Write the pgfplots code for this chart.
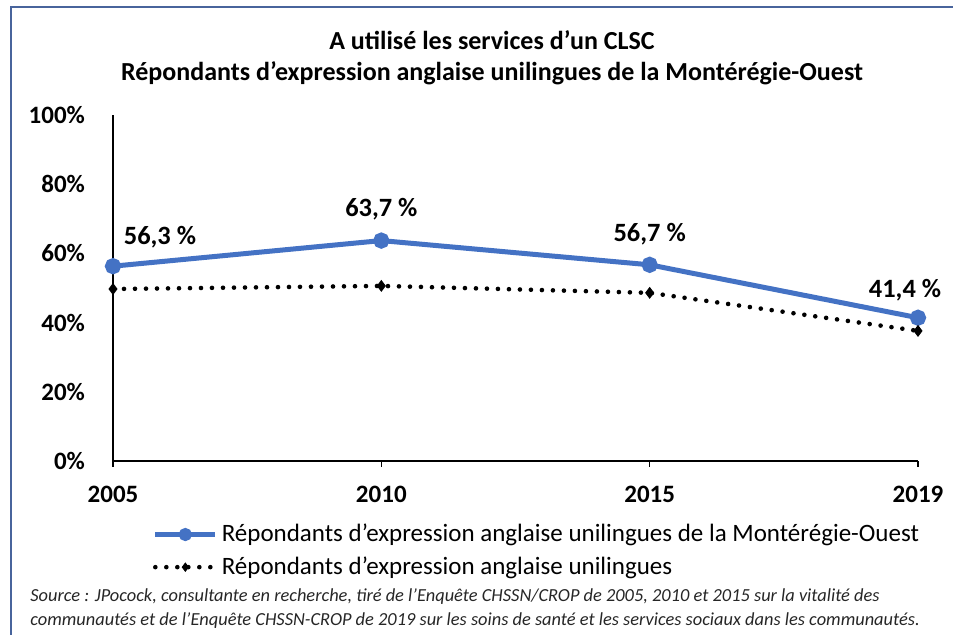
\documentclass[border=0pt]{standalone}
\usepackage{pgfplots}
\pgfplotsset{compat=1.18}
\usepackage{fontspec}
\setmainfont{Carlito}
\definecolor{xlblue}{RGB}{68,114,196}
\definecolor{frameblue}{RGB}{72,100,156}
\begin{document}
\begin{tikzpicture}
\path[use as bounding box] (0,0) rectangle (476.5pt,317.5pt);
\draw[frameblue, line width=1pt] (5.5pt,0pt) -- (5.5pt,314pt) -- (476.5pt,314pt);
\node[font=\bfseries\fontsize{13}{15.5}\selectfont, align=center] at (246pt,288.5pt)
  {A utilisé les services d'un CLSC\\[0pt] Répondants d’expression anglaise unilingues de la Montérégie-Ouest};
\begin{axis}[
  at={(56.5pt,87pt)}, anchor=origin,
  scale only axis, width=402.5pt, height=173pt,
  xmin=0, xmax=3, ymin=0, ymax=100,
  axis x line=bottom, axis y line=left,
  axis line style={black, line width=0.6pt, -},
  xtick={0,1,2,3}, xticklabels={2005,2010,2015,2019},
  ytick={0,20,40,60,80,100},
  yticklabel={\pgfmathprintnumber{\tick}\%},
  tick label style={font=\bfseries\fontsize{12.5}{14}\selectfont},
  /pgf/number format/assume math mode=true,
  x tick style={black, line width=0.6pt}, xtick align=outside,
  major tick length=3pt,
  y tick style={draw=none},
  yticklabel style={xshift=-9pt},
  xticklabel style={yshift=-6pt},
  clip=false,
  legend cell align=left,
  legend style={draw=none, fill=none, at={(0.049,-0.17)}, anchor=north west,
    font=\fontsize{12.5}{14}\selectfont, row sep=2pt, inner sep=0pt},
  legend image code/.code={\draw[mark repeat=2,mark phase=2,#1, mark size=2pt] plot coordinates {(0pt,0pt) (15pt,0pt) (30pt,0pt)};},
]
\addplot[xlblue, line width=2.5pt, mark=*, mark size=2.8pt, mark options={solid, fill=xlblue, draw=xlblue}]
  coordinates {(0,56.3) (1,63.7) (2,56.7) (3,41.4)};
\addlegendentry{Répondants d’expression anglaise unilingues de la Montérégie-Ouest}
\addplot[black, line width=2.3pt, line cap=round, dash pattern=on 0pt off 5.5pt, mark=diamond*, mark size=2.6pt, mark options={solid, line width=0.5pt}]
  coordinates {(0,49.7) (1,50.6) (2,48.6) (3,37.6)};
\addlegendentry{Répondants d’expression anglaise unilingues}
\node[font=\bfseries\fontsize{13.2}{14}\selectfont] at (axis cs:0,56.3) [xshift=23.5pt, yshift=14.5pt] {56,3 \%};
\node[font=\bfseries\fontsize{13.2}{14}\selectfont] at (axis cs:1,63.7) [yshift=15.5pt] {63,7 \%};
\node[font=\bfseries\fontsize{13.2}{14}\selectfont] at (axis cs:2,56.7) [yshift=15.5pt] {56,7 \%};
\node[font=\bfseries\fontsize{13.2}{14}\selectfont] at (axis cs:3,41.4) [xshift=-6.5pt, yshift=14pt] {41,4 \%};
\end{axis}
\node[font=\itshape\fontsize{9.2}{12}\selectfont, anchor=north west, align=left, text=black!85, inner sep=0pt] at (15pt,23.5pt)
  {Source : JPocock, consultante en recherche, tiré de l'Enquête CHSSN/CROP de 2005, 2010 et 2015 sur la vitalité des\\
   communautés et de l'Enquête CHSSN-CROP de 2019 sur les soins de santé et les services sociaux dans les communautés.};
\end{tikzpicture}
\end{document}
